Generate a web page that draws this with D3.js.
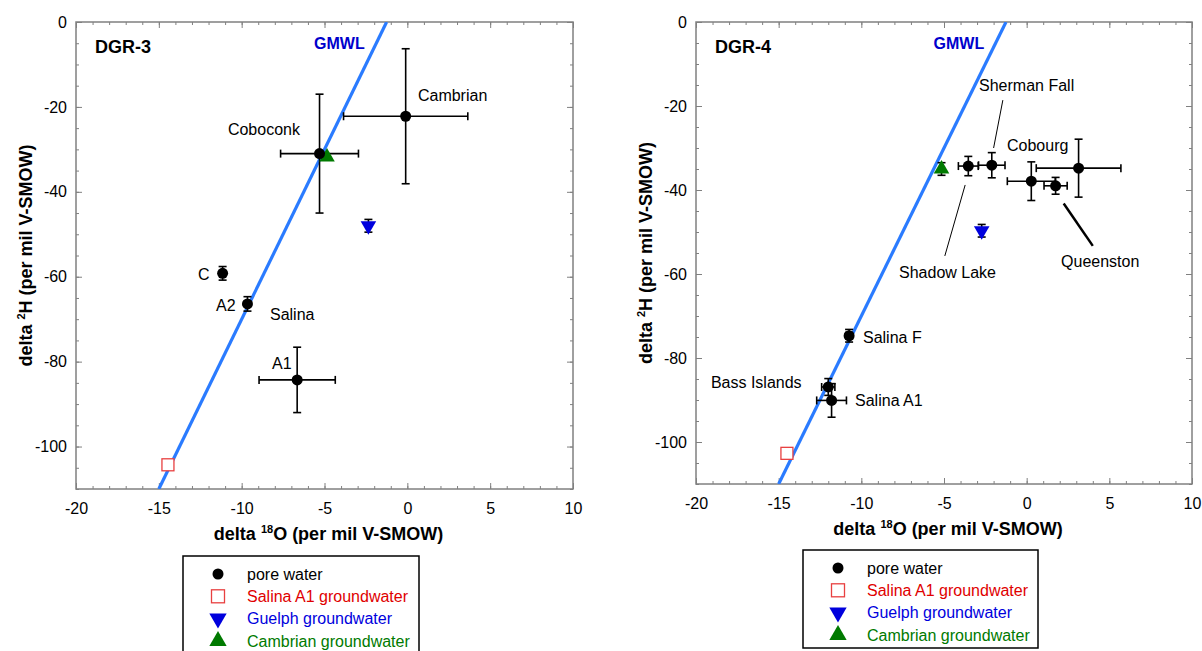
<!DOCTYPE html>
<html>
<head>
<meta charset="utf-8">
<script src="https://cdn.jsdelivr.net/npm/d3@7"></script>
<style>
  body { margin: 0; background: #fff; }
  svg { display: block; }
</style>
</head>
<body>
<div id="chart"></div>
<script>
// axis ranges and ticks
const xDomain = [-20, 10];
const yDomain = [-110, 0];
const xTicksMajor = [-20, -15, -10, -5, 0, 5, 10];
const yTicksMajor = [0, -20, -40, -60, -80, -100];

// legend
const legendNames = ["pore water", "Salina A1 groundwater", "Guelph groundwater", "Cambrian groundwater"];
const legendColors = ["#000000", "#e00000", "#0000dd", "#007a00"];

// GMWL: d2H = 8 * d18O + 10
const gmwlSlope = 8, gmwlIntercept = 10;

// DGR-3 pore water
const dgr3PoreX    = [-0.1, -5.3, -11.15, -9.65, -6.65];
const dgr3PoreY    = [-22.2, -31.0, -59.2, -66.4, -84.3];
const dgr3PoreXErr = [3.75, 2.35, 0, 0, 2.3];
const dgr3PoreYErr = [15.9, 14.0, 1.6, 1.7, 7.7];
// DGR-3 groundwater: Salina A1, Guelph, Cambrian
const dgr3GwX    = [-14.45, -2.35, -4.85];
const dgr3GwY    = [-104.3, -48.0, -31.8];
const dgr3GwYErr = [0, 1.5, 0];
const dgr3Labels = ["Cambrian", "Coboconk", "C", "A2", "Salina", "A1"];
const dgr3LabelX = [0.64, -10.83, -12.64, -11.55, -8.29, -8.17];
const dgr3LabelY = [-17.4, -25.4, -59.4, -66.7, -68.8, -80.3];

// DGR-4 pore water
const dgr4PoreX    = [-3.53, -2.11, 0.28, 1.75, 3.14, -10.74, -12.0, -11.8];
const dgr4PoreY    = [-34.3, -34.1, -37.9, -39.0, -34.8, -74.7, -86.9, -90.1];
const dgr4PoreXErr = [0.6, 0.8, 1.45, 0.7, 2.56, 0.2, 0.4, 0.9];
const dgr4PoreYErr = [2.3, 3.0, 4.6, 2.0, 6.9, 1.5, 2.0, 4.0];
// DGR-4 groundwater: Salina A1, Guelph, Cambrian
const dgr4GwX    = [-14.5, -2.72, -5.15];
const dgr4GwY    = [-102.7, -49.7, -35.0];
const dgr4GwYErr = [0, 1.5, 1.5];
const dgr4Labels = ["Sherman Fall", "Cobourg", "Shadow Lake", "Queenston", "Salina F", "Bass Islands", "Salina A1"];
const dgr4LabelX = [-2.88, -1.19, -7.72, 2.08, -9.9, -19.1, -10.38];
const dgr4LabelY = [-15.2, -29.3, -59.5, -57.1, -75.0, -85.7, -90.0];
// leader lines [x1, y1, x2, y2, width]
const dgr4Leaders = [
  [-1.44, -18.6, -2.0, -30.0, 1],
  [-3.72, -38.8, -4.95, -55.7, 1],
  [2.24, -43.2, 4.0, -53.3, 2.5]
];

const font = "'Liberation Sans', Arial, sans-serif";
const frameColor = "#808080";
const plain = d => String(d);   // keep ASCII hyphen minus like the original

const svg = d3.select("#chart")
  .append("svg")
    .attr("width", 1202)
    .attr("height", 651)
    .style("font-family", font);

function drawPanel(p) {
  const x = d3.scaleLinear().domain(xDomain).range([p.left, p.right]);
  const y = d3.scaleLinear().domain(yDomain).range([p.bottom, p.top]);
  const g = svg.append("g");

  const clipId = "clip-" + p.name;
  svg.append("clipPath").attr("id", clipId)
    .append("rect")
      .attr("x", p.left).attr("y", p.top)
      .attr("width", p.right - p.left).attr("height", p.bottom - p.top);

  // ticks (inside), minor + major on all four sides
  const xMinor = d3.range(-20, 10.01, 1);
  const yMinor = d3.range(-110, 0.01, 5);
  const axes = [
    [d3.axisBottom(x).tickValues(xMinor).tickSize(-3).tickFormat(""), `translate(0,${p.bottom})`],
    [d3.axisTop(x).tickValues(xMinor).tickSize(-3).tickFormat(""), `translate(0,${p.top})`],
    [d3.axisTop(x).tickValues(xTicksMajor).tickSize(-6).tickFormat(""), `translate(0,${p.top})`],
    [d3.axisLeft(y).tickValues(yMinor).tickSize(-3).tickFormat(""), `translate(${p.left},0)`],
    [d3.axisRight(y).tickValues(yMinor).tickSize(-3).tickFormat(""), `translate(${p.right},0)`],
    [d3.axisRight(y).tickValues(yTicksMajor).tickSize(-6).tickFormat(""), `translate(${p.right},0)`]
  ];
  axes.forEach(([ax, tr]) => {
    const a = g.append("g").attr("transform", tr).call(ax);
    a.select(".domain").remove();
    a.selectAll("line").attr("stroke", frameColor);
  });

  const xAxis = g.append("g")
    .attr("transform", `translate(0,${p.bottom})`)
    .call(d3.axisBottom(x).tickValues(xTicksMajor).tickSize(-6).tickPadding(14).tickFormat(plain));
  const yAxis = g.append("g")
    .attr("transform", `translate(${p.left},0)`)
    .call(d3.axisLeft(y).tickValues(yTicksMajor).tickSize(-6).tickPadding(9).tickFormat(plain));
  [xAxis, yAxis].forEach(a => {
    a.select(".domain").remove();
    a.selectAll("line").attr("stroke", frameColor);
    a.selectAll("text").attr("fill", "#000").style("font-size", "16px").style("font-family", font);
  });

  g.append("rect")
    .attr("x", p.left).attr("y", p.top)
    .attr("width", p.right - p.left).attr("height", p.bottom - p.top)
    .attr("fill", "none").attr("stroke", frameColor).attr("stroke-width", 1.5);

  // axis titles
  const xt = g.append("text")
    .attr("x", (p.left + p.right) / 2 + 4)
    .attr("y", p.bottom + 51)
    .attr("text-anchor", "middle")
    .style("font-size", "18px").style("font-weight", "bold");
  xt.append("tspan").text("delta ");
  xt.append("tspan").text("18").style("font-size", "11px").attr("dy", -7);
  xt.append("tspan").text("O (per mil V-SMOW)").attr("dy", 7);

  const yt = g.append("text")
    .attr("transform", `translate(${p.left - 44},${(p.top + p.bottom) / 2}) rotate(-90)`)
    .attr("text-anchor", "middle")
    .style("font-size", "18px").style("font-weight", "bold");
  yt.append("tspan").text("delta ");
  yt.append("tspan").text("2").style("font-size", "11px").attr("dy", -7);
  yt.append("tspan").text("H (per mil V-SMOW)").attr("dy", 7);

  // GMWL
  const gmwlY = [yDomain[0], yDomain[1]];
  g.append("line")
    .attr("clip-path", `url(#${clipId})`)
    .attr("x1", x((gmwlY[0] - gmwlIntercept) / gmwlSlope)).attr("y1", y(gmwlY[0]))
    .attr("x2", x((gmwlY[1] - gmwlIntercept) / gmwlSlope)).attr("y2", y(gmwlY[1]))
    .attr("stroke", "#2a7bff").attr("stroke-width", 3.2);

  g.append("text")
    .attr("x", x(-4.1)).attr("y", y(-5.0)).attr("dy", "0.35em")
    .attr("text-anchor", "middle")
    .attr("fill", "#0000cc")
    .style("font-size", "16px").style("font-weight", "bold")
    .text("GMWL");

  g.append("text")
    .attr("x", x(-18.85)).attr("y", y(-5.8)).attr("dy", "0.35em")
    .style("font-size", "18px").style("font-weight", "bold")
    .text(p.name);

  // leader lines
  (p.leaders || []).forEach(l => {
    g.append("line")
      .attr("x1", x(l[0])).attr("y1", y(l[1]))
      .attr("x2", x(l[2])).attr("y2", y(l[3]))
      .attr("stroke", "#000").attr("stroke-width", l[4]);
  });

  // error bars
  function errBar(xv, yv, xe, ye) {
    const cap = 4;
    if (xe > 0) {
      g.append("line").attr("x1", x(xv - xe)).attr("x2", x(xv + xe))
        .attr("y1", y(yv)).attr("y2", y(yv)).attr("stroke", "#000").attr("stroke-width", 1.6);
      [xv - xe, xv + xe].forEach(e => g.append("line")
        .attr("x1", x(e)).attr("x2", x(e))
        .attr("y1", y(yv) - cap).attr("y2", y(yv) + cap)
        .attr("stroke", "#000").attr("stroke-width", 1.6));
    }
    if (ye > 0) {
      g.append("line").attr("x1", x(xv)).attr("x2", x(xv))
        .attr("y1", y(yv - ye)).attr("y2", y(yv + ye)).attr("stroke", "#000").attr("stroke-width", 1.6);
      [yv - ye, yv + ye].forEach(e => g.append("line")
        .attr("x1", x(xv) - cap).attr("x2", x(xv) + cap)
        .attr("y1", y(e)).attr("y2", y(e))
        .attr("stroke", "#000").attr("stroke-width", 1.6));
    }
  }

  p.poreX.forEach((xv, i) => errBar(xv, p.poreY[i], p.poreXErr[i], p.poreYErr[i]));
  p.gwX.forEach((xv, i) => errBar(xv, p.gwY[i], 0, p.gwYErr[i]));

  // groundwater markers
  g.append("rect")
    .attr("x", x(p.gwX[0]) - 6).attr("y", y(p.gwY[0]) - 6)
    .attr("width", 12).attr("height", 12)
    .attr("fill", "#fff").attr("stroke", "#e84040").attr("stroke-width", 1.3);
  g.append("path")
    .attr("d", d3.symbol().type(d3.symbolTriangle).size(105))
    .attr("transform", `translate(${x(p.gwX[1])},${y(p.gwY[1])}) rotate(180)`)
    .attr("fill", legendColors[2]);
  g.append("path")
    .attr("d", d3.symbol().type(d3.symbolTriangle).size(105))
    .attr("transform", `translate(${x(p.gwX[2])},${y(p.gwY[2])})`)
    .attr("fill", legendColors[3]);

  // pore water
  g.selectAll(".pore")
    .data(p.poreX.map((xv, i) => [xv, p.poreY[i]]))
    .join("circle")
      .attr("cx", d => x(d[0])).attr("cy", d => y(d[1]))
      .attr("r", 5.5).attr("fill", "#000");

  // labels
  p.labels.forEach((t, i) => {
    g.append("text")
      .attr("x", x(p.labelX[i])).attr("y", y(p.labelY[i])).attr("dy", "0.35em")
      .style("font-size", "16px")
      .text(t);
  });

  // legend
  const lg = g.append("g");
  lg.append("rect")
    .attr("x", p.legend.x).attr("y", p.legend.y)
    .attr("width", p.legend.w).attr("height", p.legend.h)
    .attr("fill", "#fff").attr("stroke", "#000").attr("stroke-width", 1.5);
  legendNames.forEach((name, i) => {
    const cy = p.legend.y + 18 + i * 22.3;
    const cx = p.legend.x + 35;
    if (i === 0) lg.append("circle").attr("cx", cx).attr("cy", cy).attr("r", 5.5).attr("fill", "#000");
    if (i === 1) lg.append("rect").attr("x", cx - 6.5).attr("y", cy - 6.5).attr("width", 13).attr("height", 13)
      .attr("fill", "#fff").attr("stroke", "#e84040").attr("stroke-width", 1.3);
    if (i === 2) lg.append("path").attr("d", d3.symbol().type(d3.symbolTriangle).size(130))
      .attr("transform", `translate(${cx},${cy}) rotate(180)`).attr("fill", legendColors[2]);
    if (i === 3) lg.append("path").attr("d", d3.symbol().type(d3.symbolTriangle).size(130))
      .attr("transform", `translate(${cx},${cy})`).attr("fill", legendColors[3]);
    lg.append("text")
      .attr("x", p.legend.x + 64).attr("y", cy).attr("dy", "0.35em")
      .attr("fill", legendColors[i])
      .style("font-size", "16px")
      .text(name);
  });
}

drawPanel({
  name: "DGR-3", left: 76, right: 573, top: 22, bottom: 489,
  poreX: dgr3PoreX, poreY: dgr3PoreY, poreXErr: dgr3PoreXErr, poreYErr: dgr3PoreYErr,
  gwX: dgr3GwX, gwY: dgr3GwY, gwYErr: dgr3GwYErr,
  labels: dgr3Labels, labelX: dgr3LabelX, labelY: dgr3LabelY,
  legend: {x: 183, y: 556, w: 236, h: 100}
});

drawPanel({
  name: "DGR-4", left: 696, right: 1192, top: 22, bottom: 484,
  poreX: dgr4PoreX, poreY: dgr4PoreY, poreXErr: dgr4PoreXErr, poreYErr: dgr4PoreYErr,
  gwX: dgr4GwX, gwY: dgr4GwY, gwYErr: dgr4GwYErr,
  labels: dgr4Labels, labelX: dgr4LabelX, labelY: dgr4LabelY,
  leaders: dgr4Leaders,
  legend: {x: 803, y: 550, w: 235, h: 98}
});
</script>
</body>
</html>
